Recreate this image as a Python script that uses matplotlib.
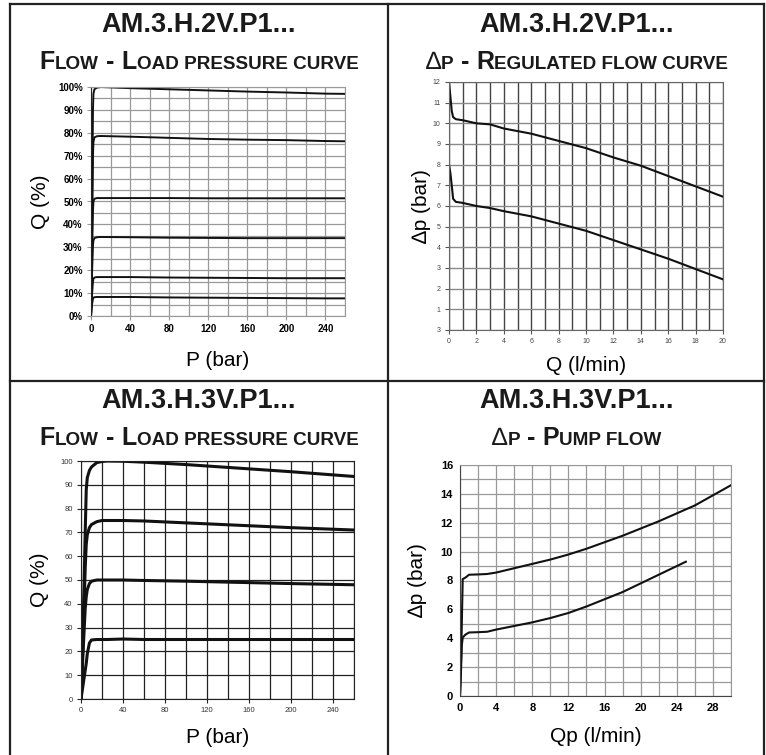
import matplotlib
matplotlib.use("Agg")
import matplotlib.pyplot as plt
from matplotlib.lines import Line2D
from matplotlib.offsetbox import TextArea, HPacker, AnchoredOffsetbox

plt.rcParams['font.family'] = ['Liberation Sans', 'DejaVu Sans']

# top-left: flow vs load pressure (2V)
p1_bar = [0, 1, 2, 2.5, 3.5, 6, 10, 40, 80, 120, 160, 200, 240, 260]
q1_100 = [0, 40, 90, 97, 99, 99.7, 100, 99.5, 99, 98.5, 98, 97.6, 97.1, 97]
q1_78 = [0, 35, 70, 76, 78, 78.5, 78.6, 78.3, 77.8, 77.3, 77, 76.8, 76.4, 76.3]
q1_51 = [0, 25, 46, 50, 51.2, 51.5, 51.5, 51.5, 51.5, 51.4, 51.4, 51.4, 51.4, 51.4]
q1_34 = [0, 18, 31, 33, 34, 34.4, 34.5, 34.4, 34.2, 34.1, 34, 34, 34, 34]
q1_17 = [0, 9, 15, 16.3, 16.8, 17, 17, 17, 16.8, 16.7, 16.6, 16.5, 16.5, 16.5]
q1_8 = [0, 5, 7.5, 8, 8.2, 8.3, 8.3, 8.3, 8.1, 8, 7.9, 7.8, 7.7, 7.7]
p1_ticks = [0, 40, 80, 120, 160, 200, 240]
q1_ticks = list(range(0, 101, 10))

# top-right: dp vs regulated flow (2V)
q2_hi = [0, 0.1, 0.2, 0.3, 0.5, 1, 2, 3, 4, 6, 8, 10, 12, 14, 16, 18, 20]
dp2_hi = [12, 11.3, 10.6, 10.3, 10.2, 10.15, 10.0, 9.95, 9.75, 9.5, 9.15, 8.8, 8.35, 7.95, 7.45, 6.95, 6.45]
q2_lo = [0, 0.1, 0.2, 0.3, 0.5, 1, 2, 3, 4, 6, 8, 10, 12, 14, 16, 18, 20]
dp2_lo = [8, 7.6, 7.0, 6.35, 6.2, 6.15, 6.0, 5.9, 5.75, 5.5, 5.15, 4.8, 4.35, 3.9, 3.45, 2.95, 2.45]
q2_ticks = list(range(0, 21, 2))
dp2_ticks = list(range(0, 13))
dp2_labels = ['3', '1', '2', '3', '4', '5', '6', '7', '8', '9', '10', '11', '12']

# bottom-left: flow vs load pressure (3V)
p3_bar = [0, 2, 4, 5, 6, 8, 10, 15, 20, 25, 40, 60, 100, 150, 200, 260]
q3_100 = [0, 30, 70, 88, 93, 96, 97.5, 99.3, 99.8, 100, 99.9, 99.5, 98.5, 97, 95.5, 93.5]
q3_75 = [0, 25, 55, 65, 69, 72, 73.3, 74.5, 75, 75, 75, 74.8, 74, 73, 72, 71]
q3_50 = [0, 20, 38, 43, 46, 48.5, 49.5, 50, 50, 50, 50, 49.8, 49.5, 49, 48.5, 48]
q3_25 = [0, 6, 12, 15, 19, 23.5, 24.8, 25, 25, 25, 25.2, 25, 25, 25, 25, 25]
p3_ticks = [0, 40, 80, 120, 160, 200, 240]
q3_ticks = list(range(0, 101, 10))

# bottom-right: dp vs pump flow (3V)
qp_hi = [0, 0.1, 0.2, 0.3, 0.6, 1, 2, 3, 4, 6, 8, 10, 12, 14, 16, 18, 20, 22, 24, 26, 28, 30]
dp4_hi = [0, 2, 5, 8.1, 8.2, 8.4, 8.42, 8.45, 8.55, 8.85, 9.15, 9.45, 9.8, 10.2, 10.65, 11.1, 11.6, 12.1, 12.65, 13.2, 13.9, 14.6]
qp_lo = [0, 0.1, 0.2, 0.3, 0.6, 1, 2, 3, 4, 6, 8, 10, 12, 14, 16, 18, 20, 22, 24, 25]
dp4_lo = [0, 1.5, 3.5, 4.05, 4.25, 4.4, 4.42, 4.45, 4.6, 4.85, 5.1, 5.4, 5.75, 6.2, 6.7, 7.2, 7.8, 8.4, 9.0, 9.3]
qp_ticks = list(range(0, 29, 4))
dp4_ticks = list(range(0, 17, 2))

W, H = 766, 755
fig = plt.figure(figsize=(W / 100, H / 100), dpi=100)


def ax_px(left, top, right, bottom):
    return fig.add_axes([left / W, 1 - bottom / H, (right - left) / W, (bottom - top) / H])


def title(cx, cy, head, parts):
    fig.text(cx / W, 1 - cy / H, head, ha='center', va='center',
             fontsize=19.5, fontweight='bold', color='#1a1a1a')
    boxes = []
    for txt, size, weight in parts:
        boxes.append(TextArea(txt, textprops=dict(fontsize=size, fontweight=weight, color='#1a1a1a')))
    pack = HPacker(children=boxes, align='baseline', pad=0, sep=0)
    box = AnchoredOffsetbox(loc='center', child=pack, frameon=False, pad=0, borderpad=0,
                            bbox_to_anchor=(cx / W, 1 - (cy + 37) / H),
                            bbox_transform=fig.transFigure)
    fig.add_artist(box)


B, S = 18, 13.6
title(199, 25, 'AM.3.H.2V.P1...',
      [('F', B, 'bold'), ('LOW', S, 'bold'), (' - ', B, 'bold'), ('L', B, 'bold'),
       ('OAD PRESSURE CURVE', S, 'bold')])
title(577, 25, 'AM.3.H.2V.P1...',
      [('\u2206', B, 'normal'), ('P', S, 'bold'), (' - ', B, 'bold'), ('R', B, 'bold'),
       ('EGULATED FLOW CURVE', S, 'bold')])
title(199, 401, 'AM.3.H.3V.P1...',
      [('F', B, 'bold'), ('LOW', S, 'bold'), (' - ', B, 'bold'), ('L', B, 'bold'),
       ('OAD PRESSURE CURVE', S, 'bold')])
title(577, 401, 'AM.3.H.3V.P1...',
      [('\u2206', B, 'normal'), ('P', S, 'bold'), (' - ', B, 'bold'), ('P', B, 'bold'),
       ('UMP FLOW', S, 'bold')])

# panel frame lines
for xs, ys in [([10, 10], [4, 755]), ([764, 764], [4, 755]), ([10, 764], [4, 4]),
               ([388, 388], [4, 755]), ([10, 764], [381, 381])]:
    fig.add_artist(Line2D([x / W for x in xs], [1 - y / H for y in ys],
                          transform=fig.transFigure, color='#222222', lw=1.6))

# ---- top-left
ax1 = ax_px(91, 87, 345, 316)
ax1.set_xlim(0, 260)
ax1.set_ylim(0, 100)
ax1.set_xticks(range(0, 261, 20), minor=True)
ax1.set_yticks(range(0, 101, 5), minor=True)
ax1.set_xticks(p1_ticks)
ax1.set_yticks(q1_ticks)
ax1.set_yticklabels([f'{v}%' for v in q1_ticks])
ax1.grid(True, which='both', color='#999999', lw=0.9)
for q in [q1_100, q1_78, q1_51, q1_34, q1_17, q1_8]:
    ax1.plot(p1_bar, q, color='#111111', lw=1.4)
ax1.tick_params(which='both', length=3, color='#999999', labelsize=7, pad=3)
ax1.tick_params(which='minor', length=0)
for lab in ax1.get_xticklabels() + ax1.get_yticklabels():
    lab.set_fontweight('bold')
for s in ax1.spines.values():
    s.set_color('#999999')
ax1.spines['left'].set_color('#222222')
ax1.set_xlabel('P (bar)', fontsize=15, labelpad=12)
ax1.set_ylabel('Q (%)', fontsize=15, labelpad=6)

# ---- top-right
ax2 = ax_px(449, 82, 723, 330)
ax2.set_xlim(0, 20)
ax2.set_ylim(0, 12)
ax2.set_xticks(range(0, 21), minor=True)
ax2.set_xticks(q2_ticks)
ax2.set_yticks(dp2_ticks)
ax2.set_yticklabels(dp2_labels)
ax2.grid(True, axis='x', which='both', color='#444444', lw=1.0)
ax2.grid(True, axis='y', color='#8a8a8a', lw=1.0)
ax2.plot(q2_hi, dp2_hi, color='#111111', lw=1.5)
ax2.plot(q2_lo, dp2_lo, color='#111111', lw=1.5)
ax2.tick_params(which='both', length=3, color='#555555', labelsize=5, labelcolor='#444444', pad=3)
ax2.tick_params(which='minor', length=0)
for s in ax2.spines.values():
    s.set_color('#666666')
ax2.set_xlabel('Q (l/min)', fontsize=15, labelpad=8)
ax2.set_ylabel('\u2206p (bar)', fontsize=15, labelpad=1)

# ---- bottom-left
ax3 = ax_px(81, 461, 354, 699)
ax3.set_xlim(0, 260)
ax3.set_ylim(0, 100)
ax3.set_xticks(range(0, 261, 20), minor=True)
ax3.set_xticks(p3_ticks)
ax3.set_yticks(q3_ticks)
ax3.grid(True, which='both', color='#222222', lw=0.9)
for q in [q3_100, q3_75, q3_50, q3_25]:
    ax3.plot(p3_bar, q, color='#111111', lw=2.2)
ax3.tick_params(which='both', length=3, color='#222222', labelsize=5.5, labelcolor='#333333', pad=3)
ax3.tick_params(which='minor', length=0)
for s in ax3.spines.values():
    s.set_color('#222222')
ax3.set_xlabel('P (bar)', fontsize=15, labelpad=10)
ax3.set_ylabel('Q (%)', fontsize=15, labelpad=8)

# ---- bottom-right
ax4 = ax_px(460, 465, 731, 696)
ax4.set_xlim(0, 30)
ax4.set_ylim(0, 16)
ax4.set_xticks(range(0, 31, 2), minor=True)
ax4.set_yticks(range(0, 17, 1), minor=True)
ax4.set_xticks(qp_ticks)
ax4.set_yticks(dp4_ticks)
ax4.grid(True, which='both', color='#999999', lw=0.9)
ax4.plot(qp_hi, dp4_hi, color='#111111', lw=1.5)
ax4.plot(qp_lo, dp4_lo, color='#111111', lw=1.5)
ax4.tick_params(which='both', length=0, labelsize=8, pad=5)
for lab in ax4.get_xticklabels() + ax4.get_yticklabels():
    lab.set_fontweight('bold')
for s in ax4.spines.values():
    s.set_color('#999999')
ax4.spines['left'].set_color('#444444')
ax4.spines['bottom'].set_color('#444444')
ax4.set_xlabel('Qp (l/min)', fontsize=15, labelpad=10)
ax4.set_ylabel('\u2206p (bar)', fontsize=15, labelpad=10)

fig.savefig('out.png', dpi=100)
